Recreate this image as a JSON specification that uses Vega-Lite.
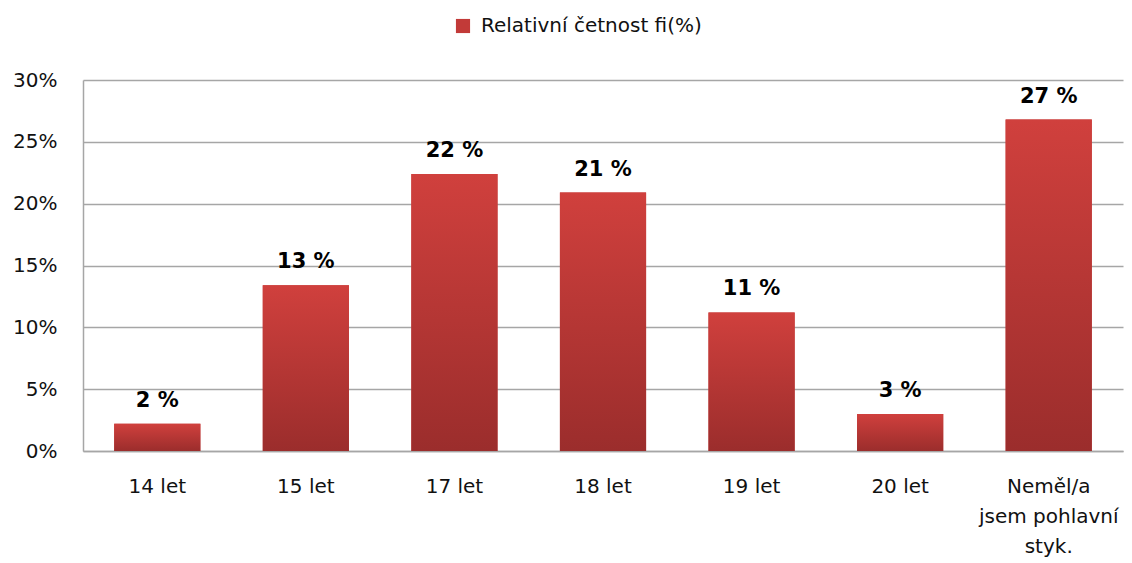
{
  "$schema": "https://vega.github.io/schema/vega-lite/v6.json",
  "width": 1040,
  "height": 371,
  "autosize": "none",
  "padding": {"left": 83, "top": 80, "right": 9, "bottom": 112},
  "background": "white",
  "config": {
    "font": "DejaVu Sans",
    "view": {"stroke": null}
  },
  "data": {
    "values": [
      {"kategorie": "14 let", "hodnota": 0.022, "popisek": "2 %"},
      {"kategorie": "15 let", "hodnota": 0.134, "popisek": "13 %"},
      {"kategorie": "17 let", "hodnota": 0.224, "popisek": "22 %"},
      {"kategorie": "18 let", "hodnota": 0.209, "popisek": "21 %"},
      {"kategorie": "19 let", "hodnota": 0.112, "popisek": "11 %"},
      {"kategorie": "20 let", "hodnota": 0.030, "popisek": "3 %"},
      {"kategorie": "Neměl/a jsem pohlavní styk.", "hodnota": 0.268, "popisek": "27 %"}
    ]
  },
  "encoding": {
    "x": {
      "field": "kategorie",
      "type": "nominal",
      "sort": null,
      "scale": {"paddingInner": 0.42, "paddingOuter": 0.21},
      "axis": {
        "title": null,
        "labelAngle": 0,
        "labelFont": "DejaVu Sans",
        "labelFontSize": 20,
        "labelColor": "#111111",
        "labelPadding": 25,
        "labelLineHeight": 30,
        "labelBaseline": "top",
        "labelLimit": 300,
        "ticks": false,
        "domainColor": "#a6a6a6",
        "domainWidth": 1.5,
        "labelExpr": "datum.value == 'Neměl/a jsem pohlavní styk.' ? ['Neměl/a', 'jsem pohlavní', 'styk.'] : datum.value"
      }
    },
    "y": {
      "field": "hodnota",
      "type": "quantitative",
      "scale": {"domain": [0, 0.3], "nice": false},
      "axis": {
        "title": null,
        "format": ".0%",
        "values": [0, 0.05, 0.1, 0.15, 0.2, 0.25, 0.3],
        "labelFont": "DejaVu Sans",
        "labelFontSize": 20,
        "labelColor": "#111111",
        "labelPadding": 26,
        "ticks": false,
        "grid": true,
        "gridColor": "#a6a6a6",
        "gridWidth": 1.5,
        "domainColor": "#a6a6a6",
        "domainWidth": 1.5
      }
    }
  },
  "layer": [
    {
      "mark": {"type": "bar"},
      "encoding": {
        "fill": {
          "datum": "Relativní četnost fi(%)",
          "type": "nominal",
          "scale": {"range": ["#c23a38"]},
          "legend": {
            "title": null,
            "orient": "none",
            "legendX": 370,
            "legendY": -64,
            "symbolType": "square",
            "symbolSize": 200,
            "symbolStrokeWidth": 0,
            "labelFont": "DejaVu Sans",
            "labelFontSize": 20,
            "labelColor": "#111111",
            "labelOffset": 8,
            "labelLimit": 400
          }
        }
      }
    },
    {
      "mark": {
        "type": "bar",
        "color": {
          "gradient": "linear",
          "x1": 0, "y1": 0, "x2": 0, "y2": 1,
          "stops": [
            {"offset": 0, "color": "#d0403d"},
            {"offset": 1, "color": "#9b2d2c"}
          ]
        }
      }
    },
    {
      "mark": {
        "type": "text",
        "font": "DejaVu Sans",
        "fontSize": 21,
        "fontWeight": "bold",
        "color": "#000000",
        "baseline": "alphabetic",
        "dy": -17
      },
      "encoding": {
        "text": {"field": "popisek", "type": "nominal"}
      }
    }
  ]
}
